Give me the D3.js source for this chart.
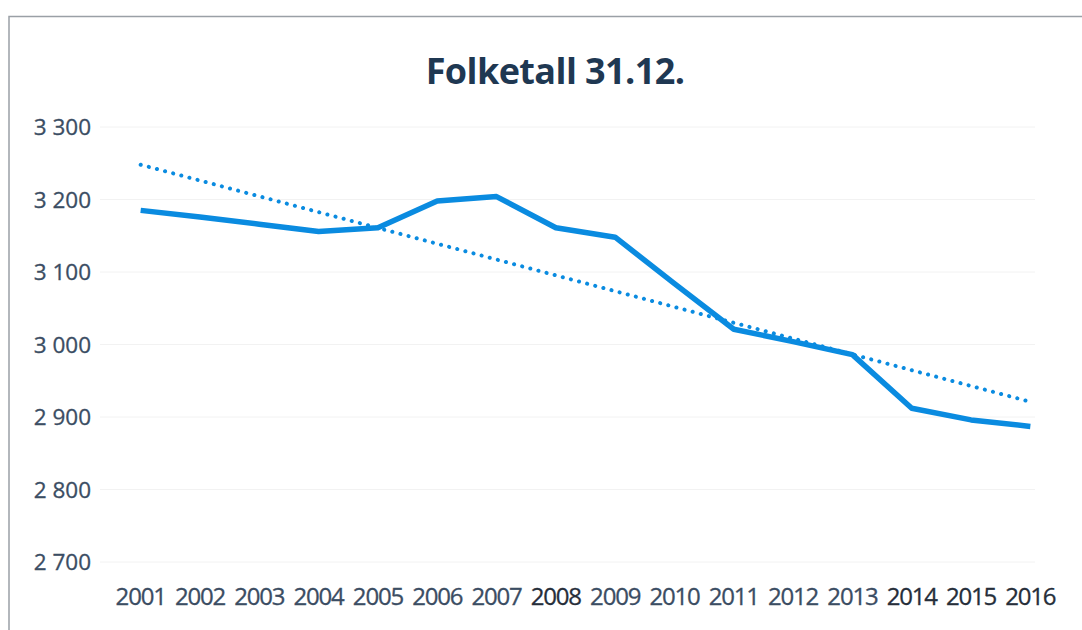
<!DOCTYPE html>
<html>
<head>
<meta charset="utf-8">
<script src="https://cdn.jsdelivr.net/npm/d3@7"></script>
<style>
  html, body { margin: 0; padding: 0; background: #fff; }
  svg { display: block; }
</style>
</head>
<body>
<svg width="1082" height="630"></svg>
<script>
// data
const years = ["2001","2002","2003","2004","2005","2006","2007","2008","2009","2010","2011","2012","2013","2014","2015","2016"];
const folketall = [3185, 3176, 3166, 3156, 3161, 3198, 3204, 3161, 3148, 3084, 3021, 3004, 2986, 2912, 2896, 2887];
// linear trend (Excel), first and last year
const trendYears = ["2001", "2016"];
const trendValues = [3248, 2921];
const yTicks = [2700, 2800, 2900, 3000, 3100, 3200, 3300];
const title = "Folketall 31.12.";

const width = 1082, height = 630;
const margin = {top: 127, right: 22, bottom: 68, left: 111};
const svg = d3.select('svg');

// chart frame (scan only shows top and left edges)
svg.append('path')
  .attr('d', 'M9,630 L9,16.5 L1082,16.5')
  .attr('fill', 'none')
  .attr('stroke', '#9aa0a6')
  .attr('stroke-width', 1.5);

const x = d3.scaleBand()
  .domain(years)
  .range([margin.left, width - margin.right]);

const y = d3.scaleLinear()
  .domain([2700, 3300])
  .range([height - margin.bottom, margin.top]);

const cx = d => x(d) + x.bandwidth() / 2;

// faint gridlines
svg.append('g')
  .selectAll('line')
  .data(yTicks)
  .enter().append('line')
  .attr('x1', 100)
  .attr('x2', 1035)
  .attr('y1', d => y(d))
  .attr('y2', d => y(d))
  .attr('stroke', '#f2f2f2')
  .attr('stroke-width', 1);

// y axis labels
const yAxis = svg.append('g')
  .attr('transform', 'translate(91,0)')
  .style('font-family', '"Open Sans", sans-serif')
  .style('font-size', '22.5px')
  .call(d3.axisLeft(y).tickValues(yTicks).tickSize(0).tickPadding(0)
    .tickFormat(d => d3.format(',')(d).replace(',', ' ')));
yAxis.select('.domain').remove();
yAxis.selectAll('text').attr('fill', '#3b4d63').attr('dy', '0.35em')
  .attr('stroke', '#3b4d63').attr('stroke-width', 0.3);

// x axis labels
const xAxis = svg.append('g')
  .attr('transform', 'translate(0,' + 605 + ')')
  .style('font-family', '"Open Sans", sans-serif')
  .style('font-size', '24px')
  .call(d3.axisBottom(x).tickSize(0).tickPadding(0));
xAxis.select('.domain').remove();
xAxis.selectAll('text')
  .attr('fill', (d, i) => (i == 7 || i >= 13) ? '#262e3a' : '#3b4d63')
  .attr('stroke', (d, i) => (i == 7 || i >= 13) ? '#262e3a' : '#3b4d63')
  .attr('stroke-width', 0.3)
  .attr('dy', '0')
  .attr('letter-spacing', '-1.2');

// trend line
svg.append('path')
  .datum(trendYears.map((d, i) => [d, trendValues[i]]))
  .attr('fill', 'none')
  .attr('stroke', '#0a8be0')
  .attr('stroke-width', 4)
  .attr('stroke-linecap', 'round')
  .attr('stroke-dasharray', '0.1 8.3')
  .attr('d', d3.line().x(d => cx(d[0])).y(d => y(d[1])));

// data line
svg.append('path')
  .datum(years.map((d, i) => [d, folketall[i]]))
  .attr('fill', 'none')
  .attr('stroke', '#0a8be0')
  .attr('stroke-width', 5.5)
  .attr('stroke-linejoin', 'round')
  .attr('d', d3.line().x(d => cx(d[0])).y(d => y(d[1])));

// title
svg.append('text')
  .attr('x', 555)
  .attr('y', 84)
  .attr('text-anchor', 'middle')
  .style('font-family', '"Open Sans", sans-serif')
  .style('font-weight', 'bold')
  .style('font-size', '36px')
  .attr('fill', '#1f3852')
  .attr('letter-spacing', '-0.6')
  .text(title);
</script>
</body>
</html>
